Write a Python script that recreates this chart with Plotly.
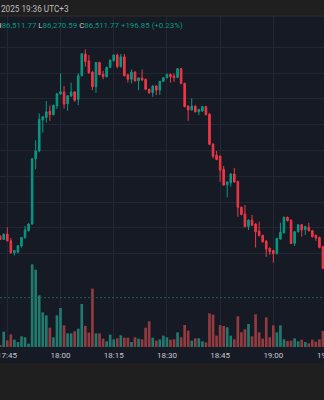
import pandas as pd
import plotly.graph_objects as go

# ---------------- data (1-minute candles, 17:43 -> 19:14) ----------------
start_time = "2025-04-03 17:43"
opens = [86668, 86655, 86676, 86650, 86604, 86606, 86630, 86662, 86689, 86715,
         86968, 86998, 87118, 87128, 87152, 87139, 87173, 87219, 87227, 87181,
         87211, 87227, 87198, 87290, 87374, 87347, 87304, 87247, 87341, 87295,
         87286, 87322, 87348, 87370, 87325, 87363, 87294, 87276, 87304, 87270,
         87281, 87276, 87237, 87224, 87250, 87234, 87268, 87282, 87295, 87288,
         87283, 87317, 87260, 87172, 87157, 87172, 87150, 87153, 87170, 87141,
         87025, 86982, 86978, 86927, 86867, 86875, 86909, 86880, 86780, 86754,
         86705, 86730, 86715, 86688, 86671, 86649, 86621, 86612, 86600, 86657,
         86681, 86741, 86730, 86640, 86685, 86712, 86694, 86702, 86689, 86671,
         86663, 86627]
highs = [86671, 86678, 86702, 86661, 86614, 86633, 86665, 86707, 86718, 86970,
         87040, 87144, 87134, 87192, 87175, 87178, 87223, 87299, 87250, 87215,
         87263, 87230, 87299, 87378, 87392, 87370, 87307, 87344, 87344, 87309,
         87325, 87353, 87373, 87376, 87374, 87374, 87297, 87314, 87307, 87283,
         87314, 87279, 87240, 87253, 87253, 87270, 87285, 87298, 87298, 87299,
         87320, 87320, 87263, 87175, 87202, 87175, 87162, 87173, 87173, 87144,
         87028, 86998, 86981, 86940, 86881, 86912, 86932, 86883, 86783, 86789,
         86733, 86750, 86718, 86724, 86674, 86652, 86624, 86615, 86662, 86720,
         86744, 86744, 86733, 86688, 86715, 86715, 86708, 86720, 86692, 86674,
         86666, 86630]
lows = [86653, 86653, 86648, 86600, 86593, 86602, 86624, 86659, 86686, 86712,
        86927, 86994, 87070, 87108, 87115, 87136, 87161, 87216, 87162, 87154,
        87208, 87189, 87176, 87287, 87325, 87298, 87234, 87224, 87291, 87276,
        87283, 87319, 87345, 87319, 87322, 87287, 87263, 87260, 87267, 87234,
        87270, 87234, 87219, 87208, 87215, 87215, 87265, 87279, 87263, 87266,
        87280, 87257, 87167, 87115, 87154, 87147, 87137, 87150, 87136, 87021,
        86969, 86962, 86879, 86863, 86818, 86860, 86875, 86743, 86749, 86702,
        86692, 86707, 86624, 86667, 86643, 86588, 86595, 86565, 86597, 86654,
        86678, 86725, 86637, 86630, 86682, 86666, 86672, 86686, 86663, 86650,
        86621, 86540]
closes = [86655, 86676, 86650, 86604, 86612, 86631, 86663, 86692, 86715, 86968,
          86998, 87121, 87131, 87150, 87139, 87175, 87220, 87228, 87180, 87212,
          87227, 87195, 87290, 87375, 87345, 87301, 87247, 87341, 87294, 87287,
          87322, 87350, 87370, 87325, 87363, 87290, 87276, 87304, 87270, 87281,
          87273, 87237, 87224, 87250, 87234, 87268, 87282, 87295, 87286, 87282,
          87317, 87260, 87170, 87157, 87172, 87150, 87159, 87170, 87139, 87024,
          86978, 86965, 86924, 86866, 86878, 86909, 86878, 86780, 86752, 86705,
          86730, 86710, 86685, 86670, 86646, 86618, 86608, 86600, 86659, 86683,
          86741, 86728, 86640, 86685, 86712, 86692, 86705, 86689, 86666, 86661,
          86624, 86543]
volumes = [0.4, 4.6, 2.0, 3.8, 2.2, 1.5, 3.2, 2.9, 1.0, 24.8,
           23.2, 15.5, 10.4, 9.5, 5.8, 2.9, 9.5, 11.7, 6.5, 4.1,
           4.1, 4.7, 5.5, 12.9, 6.3, 4.3, 17.5, 4.1, 4.1, 2.5,
           1.7, 3.7, 2.3, 2.6, 3.5, 2.8, 2.8, 1.5, 2.9, 2.5,
           2.3, 5.8, 7.7, 2.8, 1.9, 2.3, 3.4, 2.9, 2.2, 2.3,
           4.4, 2.9, 6.6, 4.9, 1.9, 2.6, 2.6, 1.7, 1.4, 10.1,
           9.7, 3.4, 6.6, 6.3, 5.9, 3.4, 2.3, 9.2, 4.4, 5.3,
           6.9, 3.2, 9.8, 4.4, 2.5, 8.9, 2.9, 6.5, 4.4, 6.5,
           2.3, 1.8, 1.9, 2.6, 1.7, 2.2, 1.5, 1.1, 2.2, 1.6,
           2.3, 4.8]
volume_ref = 14.8
price_grid = [86600, 86700, 86800, 86900, 87000, 87100, 87200, 87300, 87400]
header_text = "2025 19:36 UTC+3"
ohlc_high, ohlc_low, ohlc_close = "86,511.77", "86,270.59", "86,511.77"
ohlc_change = "+196.85 (+0.23%)"
edge_tick_times = ["2025-04-03 17:45", "2025-04-03 19:15"]

# ---------------- styling ----------------
W, H = 324, 400
UP, DOWN = "#089981", "#f23645"
VOL_UP, VOL_DOWN = "#217a6e", "#943b40"
CHART_BG = "#161a25"
OUTER_BG = "#1f1f1f"
GRID = "#232734"
TEXT = "#c5c8d0"

times = pd.date_range(start_time, periods=len(opens), freq="min")
vol_colors = [VOL_UP if c >= o else VOL_DOWN for o, c in zip(opens, closes)]

def py(px):  # pixel row -> paper fraction
    return 1 - px / H

fig = go.Figure()
fig.add_trace(go.Bar(x=times, y=volumes, marker=dict(color=vol_colors, line=dict(width=0)),
                     yaxis="y", hoverinfo="skip"))
fig.add_trace(go.Candlestick(
    x=times, open=opens, high=highs, low=lows, close=closes, yaxis="y2",
    increasing=dict(line=dict(color=UP, width=1), fillcolor=UP),
    decreasing=dict(line=dict(color=DOWN, width=1), fillcolor=DOWN),
    whiskerwidth=0, hoverinfo="skip"))

tick0 = pd.Timestamp(start_time) + pd.Timedelta(minutes=2)
px_per_min = 3.547
x0 = tick0 - pd.Timedelta(minutes=7.3 / px_per_min)
x1 = tick0 + pd.Timedelta(minutes=(W - 7.3) / px_per_min)

top_px, bot_px = 16, 347
plot_h = bot_px - top_px
grid_px = 25.8
p_top = 87400 + (47.3 - top_px) * 100 / grid_px
p_bot = 87400 - (bot_px - 47.3) * 100 / grid_px
vol_top = plot_h / (82.7 / 24.8)

fig.update_layout(
    width=W, height=H, margin=dict(l=0, r=0, t=0, b=0),
    paper_bgcolor=OUTER_BG, plot_bgcolor=CHART_BG,
    showlegend=False, bargap=0.25, boxgap=0.36, hovermode=False,
    xaxis=dict(type="date", range=[x0, x1], tick0=tick0, dtick=15 * 60 * 1000,
               tickformat="%H:%M", showgrid=True, gridcolor=GRID, gridwidth=1,
               zeroline=False, showline=False, ticks="", rangeslider=dict(visible=False),
               ticklabelstandoff=2,
               tickfont=dict(family="Roboto", size=8, color=TEXT)),
    yaxis=dict(domain=[py(bot_px), py(top_px)], range=[0, vol_top], showgrid=False,
               showticklabels=False, zeroline=False, showline=False, ticks=""),
    yaxis2=dict(overlaying="y", range=[p_bot, p_top], tickmode="array", tickvals=price_grid,
                showgrid=True, gridcolor=GRID, gridwidth=1, showticklabels=False,
                zeroline=False, showline=False, ticks=""),
    shapes=[
        dict(type="rect", xref="paper", yref="paper", x0=0, x1=1, y0=py(362.7), y1=py(top_px),
             fillcolor=CHART_BG, line=dict(width=0), layer="below"),
        dict(type="line", xref="paper", yref="paper", x0=0, x1=1, y0=py(top_px), y1=py(top_px),
             line=dict(color="#2e2e2e", width=1)),
        dict(type="line", xref="paper", yref="y", x0=0, x1=1, y0=volume_ref, y1=volume_ref,
             line=dict(color="#1b5e57", width=1, dash="2px,2px")),
    ],
)

anns = [
    dict(text=header_text, xref="paper", yref="paper", x=0, y=py(9), xanchor="left",
         yanchor="middle", showarrow=False, borderpad=0,
         font=dict(family="Roboto", size=8.2, color="#bdbdbd")),
    dict(text=(f"<span style='color:{TEXT}'>H</span>{ohlc_high} "
               f"<span style='color:{TEXT}'>L</span>{ohlc_low} "
               f"<span style='color:{TEXT}'>C</span>{ohlc_close} {ohlc_change}"),
         xref="paper", yref="paper", x=-4.8 / W, y=py(25.5), xanchor="left",
         yanchor="middle", showarrow=False, borderpad=0,
         font=dict(family="Roboto", size=7.9, color=UP)),
]
# edge tick labels that the axis itself drops (they overflow the page edges)
for t in edge_tick_times:
    ts = pd.Timestamp(t)
    frac = (ts - x0) / (x1 - x0)
    anns.append(dict(text=ts.strftime("%H:%M"), xref="paper", yref="paper", x=frac,
                     y=py(355.3), xanchor="center", yanchor="middle", showarrow=False,
                     borderpad=0, font=dict(family="Roboto", size=8, color=TEXT)))
fig.update_layout(annotations=anns)

fig.write_html("out.html", config={"displayModeBar": False})
